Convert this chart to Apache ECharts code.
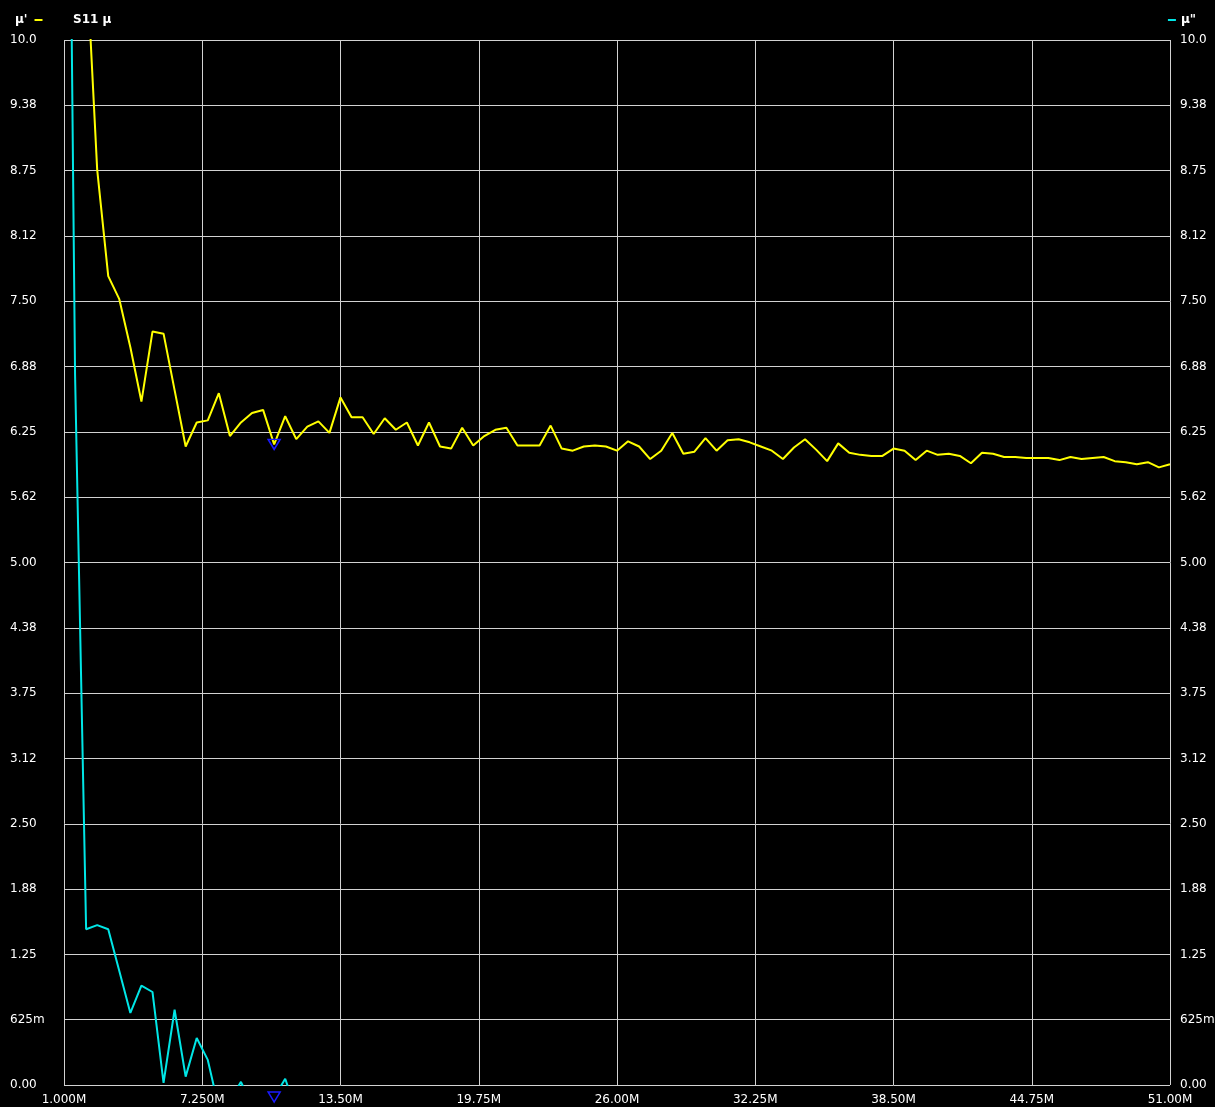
<!DOCTYPE html>
<html>
<head>
<meta charset="utf-8">
<title>S11 μ</title>
<script src="https://cdn.jsdelivr.net/npm/echarts@6/dist/echarts.min.js"></script>
<style>
  html, body { margin: 0; padding: 0; background: #000; }
  #chart { width: 1215px; height: 1107px; }
</style>
</head>
<body>
<div id="chart"></div>
<script>
// sweep: 1 MHz .. 51 MHz, 101 points
const startMHz = 1;
const stepMHz = 0.5;
const freqMHz = Array.from({length: 101}, (_, i) => startMHz + stepMHz * i);

// μ' (yellow, left axis)
const muReal = [
  15.0, 12.6, 10.85, 8.76, 7.74, 7.52, 7.06, 6.54, 7.21, 7.19,
  6.65, 6.11, 6.34, 6.36, 6.62, 6.21, 6.34, 6.43, 6.46, 6.13,
  6.40, 6.18, 6.30, 6.35, 6.24, 6.58, 6.39, 6.39, 6.23, 6.38,
  6.27, 6.34, 6.12, 6.34, 6.11, 6.09, 6.29, 6.12, 6.21, 6.27,
  6.29, 6.12, 6.12, 6.12, 6.31, 6.09, 6.07, 6.11, 6.12, 6.11,
  6.07, 6.16, 6.11, 5.99, 6.07, 6.24, 6.04, 6.06, 6.19, 6.07,
  6.17, 6.18, 6.15, 6.11, 6.07, 5.99, 6.10, 6.18, 6.08, 5.97,
  6.14, 6.05, 6.03, 6.02, 6.02, 6.09, 6.07, 5.98, 6.07, 6.03,
  6.04, 6.02, 5.95, 6.05, 6.04, 6.01, 6.01, 6.00, 6.00, 6.00,
  5.98, 6.01, 5.99, 6.00, 6.01, 5.97, 5.96, 5.94, 5.96, 5.91,
  5.94
];

// μ" (cyan, right axis) - drops below 0 after ~8 MHz
const muImag = [
  17.5, 6.8, 1.49, 1.53, 1.49, 1.09, 0.69, 0.95, 0.89, 0.02,
  0.72, 0.08, 0.45, 0.24, -0.22, -0.15, 0.03, -0.2, -0.3, -0.12,
  0.06, -0.25, -0.3, -0.18, -0.35, -0.28, -0.4, -0.22, -0.33, -0.3,
  -0.38, -0.27, -0.42, -0.35, -0.3, -0.45, -0.33, -0.4, -0.37, -0.44,
  -0.36, -0.41, -0.47, -0.39, -0.43, -0.5, -0.42, -0.46, -0.4, -0.48,
  -0.45, -0.52, -0.44, -0.49, -0.47, -0.53, -0.46, -0.5, -0.55, -0.49,
  -0.52, -0.48, -0.56, -0.51, -0.54, -0.5, -0.57, -0.53, -0.55, -0.58,
  -0.52, -0.56, -0.6, -0.54, -0.57, -0.59, -0.55, -0.61, -0.58, -0.6,
  -0.57, -0.62, -0.59, -0.61, -0.63, -0.6, -0.62, -0.64, -0.61, -0.63,
  -0.65, -0.62, -0.64, -0.66, -0.63, -0.65, -0.67, -0.64, -0.66, -0.68,
  -0.65
];

const yTickLabels = ['0.00', '625m', '1.25', '1.88', '2.50', '3.12', '3.75', '4.38', '5.00',
  '5.62', '6.25', '6.88', '7.50', '8.12', '8.75', '9.38', '10.0'];
const xTickLabels = ['1.000M', '7.250M', '13.50M', '19.75M', '26.00M', '32.25M', '38.50M', '44.75M', '51.00M'];

const markerIndex = 19;

const yStep = 0.625;
const xStep = 6.25;
const font = 'DejaVu Sans';
const gridColor = '#d2d2d2';

// x is plotted as offset from start frequency so the ticks start at the left edge
const toPairs = vals => vals.map((v, i) => [freqMHz[i] - startMHz, v]);

const chart = echarts.init(document.getElementById('chart'));

const yAxisBase = {
  type: 'value',
  min: 0,
  max: 10,
  interval: yStep,
  axisLine: {show: false},
  axisTick: {show: false},
  axisLabel: {
    color: '#fff',
    fontFamily: font,
    fontSize: 12,
    formatter: v => yTickLabels[Math.round(v / yStep)]
  }
};

chart.setOption({
  backgroundColor: '#000',
  animation: false,
  title: {
    text: 'S11 μ',
    left: 68,
    top: 9,
    textStyle: {color: '#fff', fontFamily: font, fontSize: 12, fontWeight: 'bold'}
  },
  legend: [
    {
      data: ['μ\''],
      left: 10,
      top: 9,
      align: 'right',
      icon: 'rect',
      itemWidth: 8,
      itemHeight: 2,
      textStyle: {color: '#fff', fontFamily: font, fontSize: 12, fontWeight: 'bold', padding: [0, 2, 0, 0]}
    },
    {
      data: ['μ"'],
      right: 14,
      top: 9,
      align: 'left',
      icon: 'rect',
      itemWidth: 8,
      itemHeight: 2,
      textStyle: {color: '#fff', fontFamily: font, fontSize: 12, fontWeight: 'bold'}
    }
  ],
  grid: {left: 64, right: 45, top: 40, bottom: 22, containLabel: false, outerBoundsMode: 'none'},
  xAxis: {
    type: 'value',
    min: 0,
    max: 50,
    interval: xStep,
    axisLine: {show: false},
    axisTick: {show: false},
    splitLine: {show: true, lineStyle: {color: gridColor, width: 1}},
    axisLabel: {
      color: '#fff',
      fontFamily: font,
      fontSize: 12,
      margin: 9,
      formatter: v => xTickLabels[Math.round(v / xStep)]
    }
  },
  yAxis: [
    Object.assign({}, yAxisBase, {
      position: 'left',
      splitLine: {show: true, lineStyle: {color: gridColor, width: 1}},
      axisLabel: Object.assign({}, yAxisBase.axisLabel, {align: 'left', margin: 54})
    }),
    Object.assign({}, yAxisBase, {
      position: 'right',
      splitLine: {show: false},
      axisLabel: Object.assign({}, yAxisBase.axisLabel, {align: 'left', margin: 10})
    })
  ],
  series: [
    {
      name: 'μ\'',
      type: 'line',
      yAxisIndex: 0,
      data: toPairs(muReal),
      symbol: 'none',
      clip: true,
      color: '#ffff00',
      lineStyle: {color: '#ffff00', width: 2},
      markPoint: {
        symbol: 'triangle',
        symbolRotate: 180,
        symbolSize: [12, 10],
        silent: true,
        label: {show: false},
        itemStyle: {color: 'rgba(0,0,0,0)', borderColor: '#1a1aff', borderWidth: 1.5},
        data: [
          {coord: [freqMHz[markerIndex] - startMHz, muReal[markerIndex]]},
          {coord: [freqMHz[markerIndex] - startMHz, 0], symbolOffset: [0, 12]}
        ]
      }
    },
    {
      name: 'μ"',
      type: 'line',
      yAxisIndex: 1,
      data: toPairs(muImag),
      symbol: 'none',
      clip: true,
      color: '#00e6e6',
      lineStyle: {color: '#00e6e6', width: 2}
    }
  ]
});
</script>
</body>
</html>
